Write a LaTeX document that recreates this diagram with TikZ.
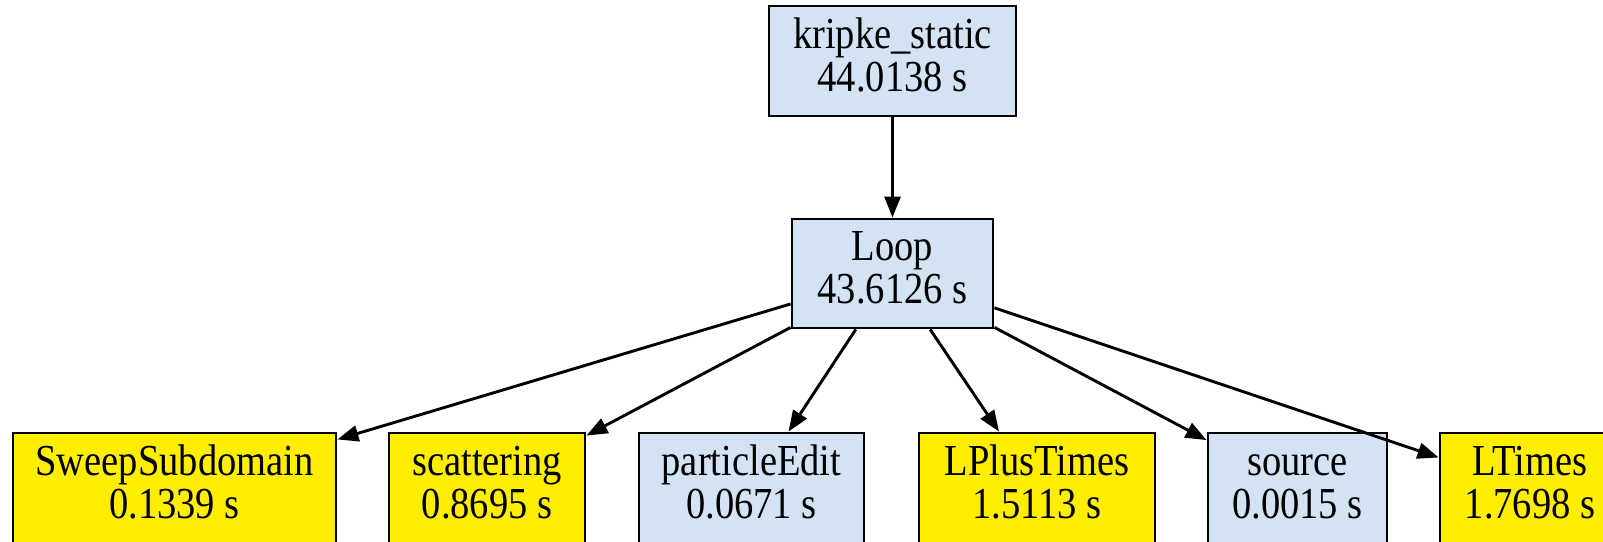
\documentclass[tikz,border=0pt]{standalone}
\usepackage{fontspec}
\setmainfont{Liberation Serif}
\usetikzlibrary{arrows.meta}
\definecolor{boxblue}{HTML}{D3E3F3}
\definecolor{boxyellow}{HTML}{FFEE00}
\newcommand{\twolines}[2]{\scalebox{1}[1.15]{\fontsize{38.5}{37.4}\selectfont\begin{tabular}{@{}c@{}}#1\\#2\end{tabular}}}
\tikzset{
  fnbox/.style={draw=black, line width=2.9pt, inner sep=0pt, minimum height=110pt},
  bluebox/.style={fnbox, fill=boxblue},
  yellowbox/.style={fnbox, fill=boxyellow},
  edge/.style={draw=black, line width=2.9pt, -{Triangle[length=21pt,width=16pt]}}
}
\begin{document}
\begin{tikzpicture}[x=1pt, y=-1pt]
\useasboundingbox (0,0) rectangle (1603,541);
\clip (0,0) rectangle (1603,541);
\fill[white] (0,0) rectangle (1603,541);
\node[bluebox, minimum width=247pt] (kripke) at (892.5,61) {\twolines{kripke\_static}{44.0138 s}};
\node[bluebox, minimum width=201pt, minimum height=109pt] (loop) at (892.5,273.5) {\twolines{Loop}{43.6126 s}};
\node[yellowbox, minimum width=323pt] (sweep) at (174.5,488) {\twolines{SweepSubdomain}{0.1339 s}};
\node[yellowbox, minimum width=196pt] (scat) at (487,488) {\twolines{scattering}{0.8695 s}};
\node[bluebox, minimum width=225pt] (pedit) at (751.5,488) {\twolines{particleEdit}{0.0671 s}};
\node[yellowbox, minimum width=236pt] (lplus) at (1037,488) {\twolines{LPlusTimes}{1.5113 s}};
\node[bluebox, minimum width=179pt] (source) at (1297.5,488) {\twolines{source}{0.0015 s}};
\node[yellowbox, minimum width=180pt] (ltimes) at (1530,488) {\twolines{LTimes}{1.7698 s}};
\draw[edge] (kripke) -- (loop);
\draw[edge] (loop) -- (sweep);
\draw[edge] (loop) -- (scat);
\draw[edge] (loop) -- (pedit);
\draw[edge] (loop) -- (lplus);
\draw[edge] (loop) -- (source);
\draw[edge] (loop) -- (ltimes);
\end{tikzpicture}
\end{document}
